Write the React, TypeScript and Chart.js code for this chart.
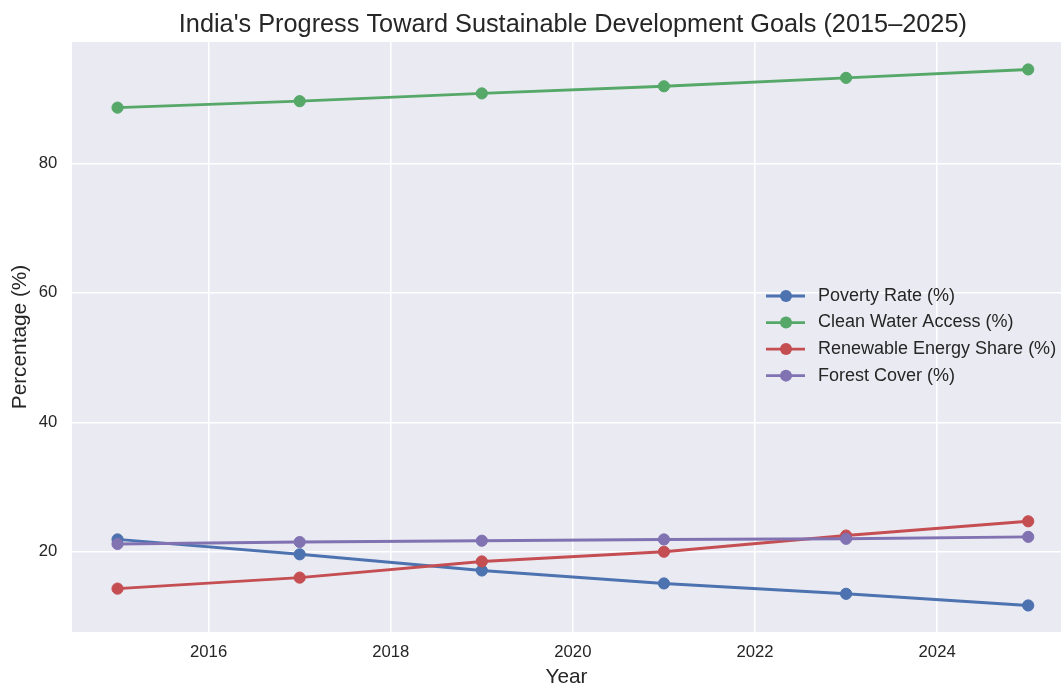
import React, { useEffect, useRef } from "react";
import { Chart, registerables } from "chart.js";

Chart.register(...registerables);

const years = [2015, 2017, 2019, 2021, 2023, 2025];
const povertyRate = [21.9, 19.6, 17.1, 15.1, 13.5, 11.7];
const cleanWaterAccess = [88.6, 89.6, 90.8, 91.9, 93.2, 94.5];
const renewableEnergyShare = [14.3, 16.0, 18.5, 20.0, 22.5, 24.7];
const forestCover = [21.2, 21.5, 21.7, 21.9, 22.0, 22.3];
const seriesLabels = [
  "Poverty Rate (%)",
  "Clean Water Access (%)",
  "Renewable Energy Share (%)",
  "Forest Cover (%)",
];
const xTickValues = [2016, 2018, 2020, 2022, 2024];
const yTickValues = [20, 40, 60, 80];
const titleText = "India's Progress Toward Sustainable Development Goals (2015–2025)";
const xTitle = "Year";
const yTitle = "Percentage (%)";

const COLORS = ["#4C72B0", "#55A868", "#C44E52", "#8172B2"];
const FONT = "'Liberation Sans', Arial, sans-serif";
const TEXT = "#262626";

const bgPlugin = {
  id: "plotBg",
  beforeDraw(chart: any) {
    const { ctx, chartArea: a } = chart;
    ctx.save();
    ctx.fillStyle = "#EAEAF2";
    ctx.fillRect(a.left, a.top, a.right - a.left, a.bottom - a.top);
    ctx.restore();
  },
};

const titlePlugin = {
  id: "axesTitle",
  afterDraw(chart: any) {
    const { ctx, chartArea: a } = chart;
    const axesRight = chart.scales.x.getPixelForValue(2025.5);
    ctx.save();
    ctx.font = `25.3px ${FONT}`;
    ctx.fillStyle = TEXT;
    ctx.textAlign = "center";
    ctx.textBaseline = "alphabetic";
    ctx.fillText(titleText, (a.left + axesRight) / 2, 31.7);
    ctx.restore();
  },
};

const legendPlugin = {
  id: "insideLegend",
  afterDatasetsDraw(chart: any) {
    const { ctx, chartArea: a } = chart;
    const n = chart.data.datasets.length;
    const cy = (a.top + a.bottom) / 2 - 1.2;
    const pitch = 26.55;
    const x0 = a.right - 295;
    ctx.save();
    ctx.font = `18px ${FONT}`;
    ctx.textBaseline = "middle";
    ctx.textAlign = "left";
    chart.data.datasets.forEach((ds: any, i: number) => {
      const y = cy + (i - (n - 1) / 2) * pitch;
      ctx.strokeStyle = ds.borderColor;
      ctx.lineWidth = 2.8;
      ctx.beginPath();
      ctx.moveTo(x0, y);
      ctx.lineTo(x0 + 39, y);
      ctx.stroke();
      ctx.fillStyle = ds.borderColor;
      ctx.beginPath();
      ctx.arc(x0 + 20, y, 6, 0, Math.PI * 2);
      ctx.fill();
      ctx.fillStyle = TEXT;
      ctx.fillText(ds.label, a.right - 243, y);
    });
    ctx.restore();
  },
};

const seriesValues = [povertyRate, cleanWaterAccess, renewableEnergyShare, forestCover];

export default function App() {
  const ref = useRef<HTMLCanvasElement | null>(null);

  useEffect(() => {
    document.body.style.margin = "0";
    const canvas = ref.current;
    if (!canvas) return;
    const chart = new Chart(canvas, {
      type: "line",
      data: {
        datasets: seriesValues.map((vals, i) => ({
          label: seriesLabels[i],
          data: years.map((yr, j) => ({ x: yr, y: vals[j] })),
          borderColor: COLORS[i],
          backgroundColor: COLORS[i],
          pointBackgroundColor: COLORS[i],
          pointBorderColor: COLORS[i],
          borderWidth: 2.9,
          pointRadius: 5.6,
          pointBorderWidth: 1,
          tension: 0,
          fill: false,
          order: seriesValues.length - i,
        })),
      },
      plugins: [bgPlugin, legendPlugin, titlePlugin],
      options: {
        responsive: false,
        animation: false,
        events: [],
        layout: { padding: { top: 42, left: 0, right: 0, bottom: 0 }, autoPadding: false },
        plugins: {
          legend: { display: false },
          tooltip: { enabled: false },
          title: { display: false },
        },
        scales: {
          x: {
            type: "linear",
            min: 2014.5,
            max: 2025.36,
            afterBuildTicks: (axis: any) => {
              axis.ticks = xTickValues.map((v) => ({ value: v }));
            },
            afterFit: (axis: any) => {
              axis.height = 54;
            },
            ticks: {
              color: TEXT,
              font: { family: FONT, size: 16.7 },
              padding: 10.5,
              callback: (v: any) => String(v),
              maxRotation: 0,
            },
            grid: { color: "#FFFFFF", lineWidth: 1.5, drawTicks: false },
            border: { display: false },
            title: {
              display: true,
              text: xTitle,
              color: TEXT,
              font: { family: FONT, size: 20.8, lineHeight: 0.82 },
              padding: { top: 0, bottom: 0 },
            },
          },
          y: {
            type: "linear",
            min: 7.6,
            max: 98.74,
            afterBuildTicks: (axis: any) => {
              axis.ticks = yTickValues.map((v) => ({ value: v }));
            },
            afterFit: (axis: any) => {
              axis.width = 72;
            },
            ticks: {
              color: TEXT,
              font: { family: FONT, size: 16.7 },
              padding: 14.7,
              callback: (v: any) => String(v),
            },
            grid: { color: "#FFFFFF", lineWidth: 1.5, drawTicks: false },
            border: { display: false },
            title: {
              display: true,
              text: yTitle,
              color: TEXT,
              font: { family: FONT, size: 20.8, lineHeight: 1.2 },
              padding: { top: 8, bottom: 0 },
            },
          },
        },
      },
    } as any);
    return () => chart.destroy();
  }, []);

  return (
    <div style={{ width: 1061, height: 686 }}>
      <canvas ref={ref} width={1061} height={686} style={{ display: "block" }} />
    </div>
  );
}
